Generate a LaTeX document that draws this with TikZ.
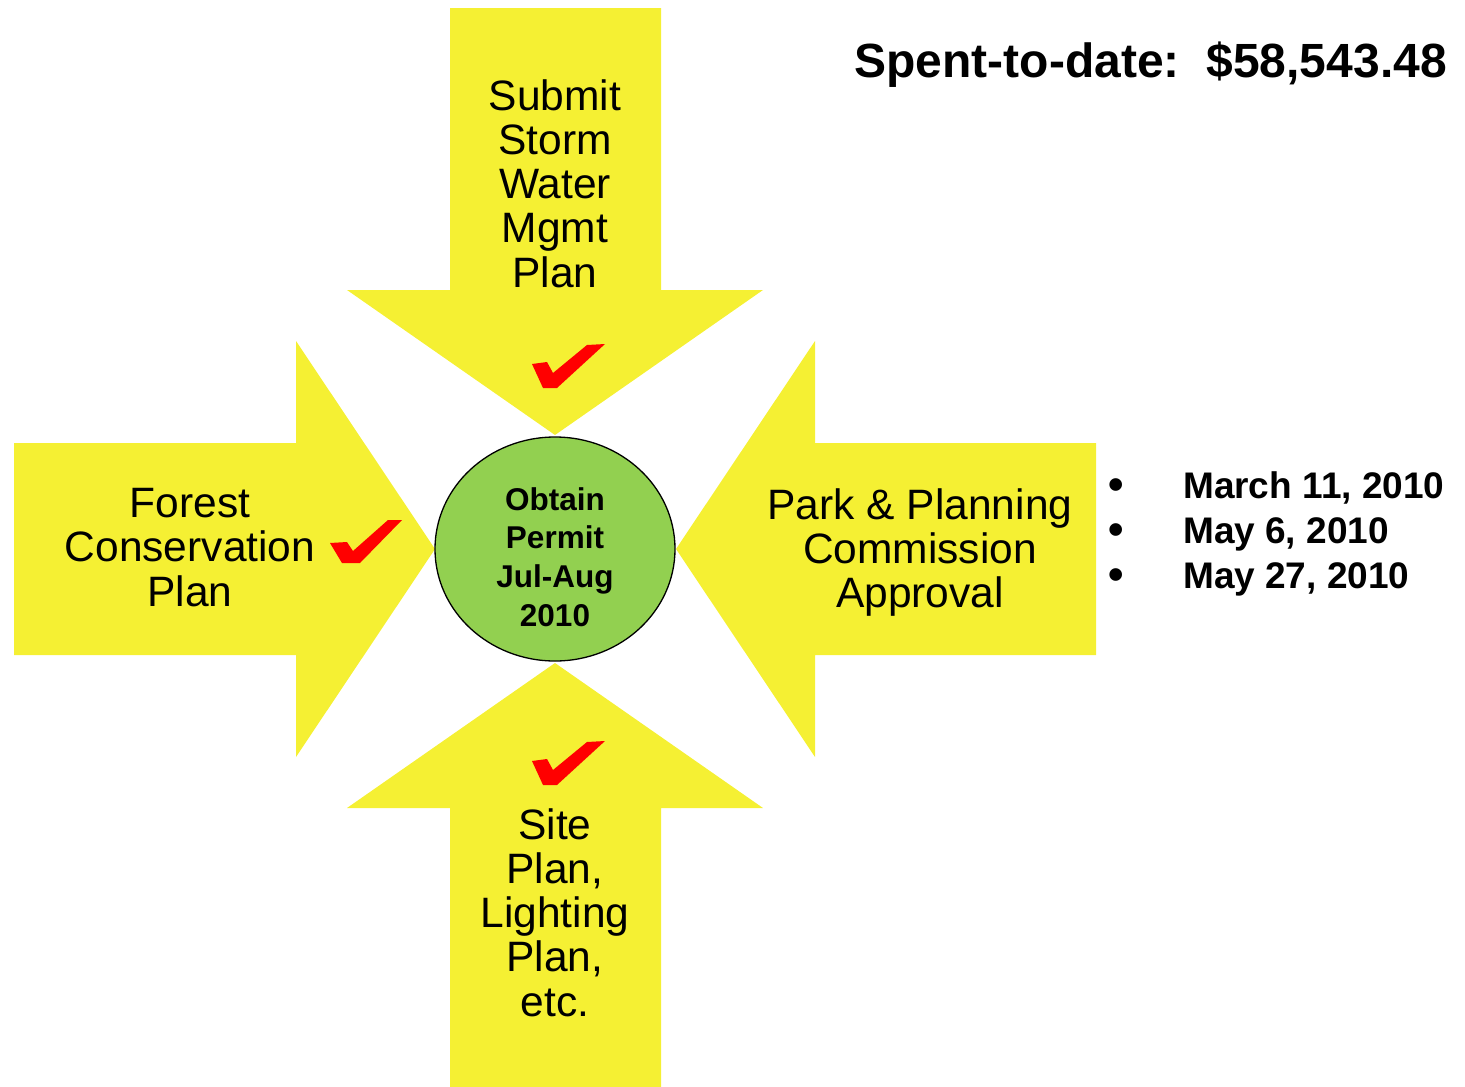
\documentclass[tikz,border=0pt]{standalone}
\usepackage{fontspec}
\setmainfont{Liberation Sans}
\definecolor{arrowyellow}{HTML}{F5F033}
\definecolor{permitgreen}{HTML}{92D050}
\definecolor{checkred}{HTML}{FF0000}
\tikzset{
  bigarrow/.style={fill=arrowyellow, draw=none},
  check/.style={fill=checkred, draw=none},
  armtext/.style={font=\fontsize{42.5}{44.3}\selectfont, align=center, inner sep=0pt, anchor=north},
  permit/.style={ellipse, fill=permitgreen, draw=black, line width=1.3pt, minimum width=240pt, minimum height=224pt, inner sep=0pt},
  datetext/.style={font=\bfseries\fontsize{37}{40}\selectfont, inner sep=0pt, anchor=base west},
  bullettext/.style={font=\bfseries\fontsize{44}{40}\selectfont, inner sep=0pt, anchor=base}
}
\usetikzlibrary{shapes.geometric}
\begin{document}
\begin{tikzpicture}[x=1pt, y=-1pt]
\useasboundingbox (0,0) rectangle (1465,1087);
% arrows
\path[bigarrow] (450,8) -- (661,8) -- (661,290) -- (763,290) -- (555,435) -- (347,290) -- (450,290) -- cycle;
\path[bigarrow] (450,1087) -- (661,1087) -- (661,808) -- (763,808) -- (555,663) -- (347,808) -- (450,808) -- cycle;
\path[bigarrow] (14,443) -- (296,443) -- (296,341) -- (435,549) -- (296,757) -- (296,655) -- (14,655) -- cycle;
\path[bigarrow] (1096,443) -- (815,443) -- (815,341) -- (676,549) -- (815,757) -- (815,655) -- (1096,655) -- cycle;
% centre
\node[permit] (center) at (555,549) {};
\node[font=\bfseries\fontsize{31.5}{38.7}\selectfont, align=center, inner sep=0pt, anchor=north] (permittext) at (555,487) {Obtain\\Permit\\Jul-Aug\\2010};
% arm texts
\node[armtext] (top) at (555,79) {Submit\\Storm\\Water\\Mgmt\\Plan};
\node[armtext] (left) at (190,488) {Forest\\Conservation\\Plan};
\node[armtext] (right) at (920,488) {Park \& Planning\\Commission\\Approval};
\node[armtext] (bottom) at (555,808) {Site\\Plan,\\Lighting\\Plan,\\etc.};
% checkmarks
\path[check] (532,364) -- (547,362) -- (553,373) -- (587,345) -- (605,344) -- (557,388) -- (543,388) -- cycle;
\path[check] (532,761) -- (547,759) -- (553,770) -- (587,742) -- (605,741) -- (557,785) -- (543,785) -- cycle;
\path[check] (330,543) -- (347,542) -- (353,551) -- (388,520) -- (402,520) -- (360,563) -- (342,563) -- cycle;
% spent
\node[font=\bfseries\fontsize{48}{54}\selectfont, inner sep=0pt, anchor=base east] (spent) at (1447,77) {Spent-to-date:\ \ \$58,543.48};
% dates
\node[bullettext] (b1) at (1116,499) {•};
\node[bullettext] (b2) at (1116,544) {•};
\node[bullettext] (b3) at (1116,589) {•};
\node[datetext] (d1) at (1183,498) {March 11, 2010};
\node[datetext] (d2) at (1183,543) {May 6, 2010};
\node[datetext] (d3) at (1183,588) {May 27, 2010};
\end{tikzpicture}
\end{document}
